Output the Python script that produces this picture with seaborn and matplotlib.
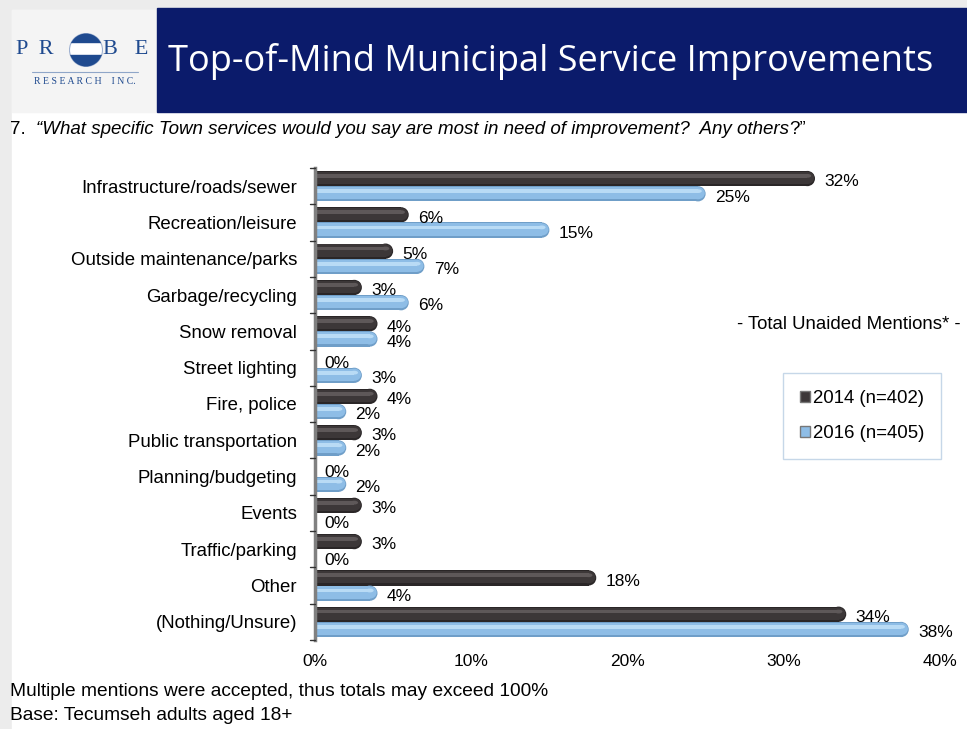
import numpy as np
import pandas as pd
import matplotlib
matplotlib.use("Agg")
import matplotlib.pyplot as plt
from matplotlib.patches import Rectangle, Circle, Ellipse
import seaborn as sns

# ---- data ----
categories = ["Infrastructure/roads/sewer", "Recreation/leisure", "Outside maintenance/parks",
              "Garbage/recycling", "Snow removal", "Street lighting", "Fire, police",
              "Public transportation", "Planning/budgeting", "Events", "Traffic/parking",
              "Other", "(Nothing/Unsure)"]
vals_2014 = [32, 6, 5, 3, 4, 0, 4, 3, 0, 3, 3, 18, 34]
vals_2016 = [25, 15, 7, 6, 4, 3, 2, 2, 2, 0, 0, 4, 38]
series = ["2014 (n=402)", "2016 (n=405)"]
xticks = [0, 10, 20, 30, 40]

df = pd.DataFrame({
    "category": categories * 2,
    "value": vals_2014 + vals_2016,
    "year": [series[0]] * len(categories) + [series[1]] * len(categories),
})

dark = "#3c3738"
blue = "#8ebde6"
shade = {dark: ("#5e5859", "#2a2627"), blue: ("#b9dbf5", "#6f9ec8")}
navy = "#0b1b6b"
logo_blue = "#1f4a8f"

sns.set_style("white")
plt.rcParams["font.family"] = ["Liberation Sans", "DejaVu Sans"]
plt.rcParams["text.color"] = "black"
plt.rcParams["xtick.color"] = "black"
plt.rcParams["ytick.color"] = "black"

fig = plt.figure(figsize=(9.67, 7.29), dpi=100)
W, H = 967, 729


def fx(px):
    return px / W


def fy(py):
    return 1 - py / H


# ---- header ----
fig.patches.append(Rectangle((0, 0), 1, 1, transform=fig.transFigure, color="#ececec", zorder=-3))
fig.patches.append(Rectangle((fx(12), 0), 1, fy(10), transform=fig.transFigure,
                             color="white", zorder=-2))
fig.patches.append(Rectangle((fx(12), fy(112)), fx(145), 102 / H, transform=fig.transFigure,
                             color="#f4f4f4", zorder=-2))
fig.patches.append(Rectangle((fx(157), fy(112)), 1, 104 / H, transform=fig.transFigure,
                             color=navy, zorder=-1))
fig.text(fx(168), fy(62), "Top-of-Mind Municipal Service Improvements",
         color="white", fontsize=26, family="Open Sans", va="center", ha="left")

# logo
fig.text(fx(16), fy(50), "P  R", family="Liberation Serif", fontsize=16,
         color=logo_blue, va="center")
fig.text(fx(103), fy(50), "B   E", family="Liberation Serif", fontsize=16,
         color=logo_blue, va="center")
lax = fig.add_axes([fx(69), fy(67), 34 / W, 34 / H])
lax.set_xlim(-1, 1)
lax.set_ylim(-1, 1)
lax.axis("off")
ring = Circle((0, 0), 0.97, facecolor="white", edgecolor="#9fb1d0", lw=0.8)
lax.add_patch(ring)
top = Rectangle((-1, 0.45), 2, 1, color=logo_blue)
bot = Rectangle((-1, -1), 2, 0.7, color=logo_blue)
for r in (top, bot):
    lax.add_patch(r)
    r.set_clip_path(ring)
fig.lines.append(plt.Line2D([fx(32), fx(138)], [fy(72), fy(72)],
                            transform=fig.transFigure, color="#8fa6c8", lw=0.8))
fig.text(fx(85), fy(82), "R E S E A R C H    I N C.", family="Liberation Serif",
         fontsize=7, color=logo_blue, ha="center", va="center")

# question
q1 = fig.text(fx(10), fy(130), "7.  ", fontsize=13.5, va="center")
q2 = plt.annotate("\u201cWhat specific Town services would you say are most in need of improvement?  Any others",
                  xy=(1, 0), xycoords=q1, va="bottom", fontsize=13.5, style="italic",
                  annotation_clip=False)
plt.annotate("?\u201d", xy=(1, 0), xycoords=q2, va="bottom", fontsize=13.5, annotation_clip=False)

# ---- chart ----
ax = fig.add_axes([fx(315), fy(640), 625 / W, 472 / H])
sns.barplot(data=df, y="category", x="value", hue="year", hue_order=series,
            palette=[dark, blue], saturation=1, orient="h", ax=ax, width=0.84, legend=True)
ax.set_xlim(0, 40)
ax.set_ylim(len(categories) - 0.5, -0.5)

# capsule-shaped bars: flat body + elliptical cap sized to look round on screen
px_x = 625 / 40          # pixels per percent
px_y = 472 / len(categories)  # pixels per category
bars = list(ax.patches)
for p in bars:
    x, y = p.get_x(), p.get_y()
    w, h = p.get_width(), p.get_height()
    fc = matplotlib.colors.to_hex(p.get_facecolor())
    p.set_visible(False)
    if w <= 0:
        continue
    r = h * px_y / 2 / px_x      # cap radius in x units
    hi, lo = shade.get(fc, (fc, fc))
    # y axis is inverted: small offsets are at the top of the bar
    layers = [(0.0, 1.0, lo), (0.06, 0.8, fc), (0.2, 0.25, hi)]
    for y0, hh, col in layers:
        rr = r * (hh ** 0.5)
        ax.add_patch(Rectangle((x, y + y0 * h), w - r, hh * h, facecolor=col,
                               edgecolor="none", zorder=2))
        ax.add_patch(Ellipse((x + w - r, y + (y0 + hh / 2) * h), 2 * rr,
                             hh * h, facecolor=col, edgecolor="none", zorder=2))

# value labels
for j, vals in enumerate([vals_2014, vals_2016]):
    off = -0.21 if j == 0 else 0.21
    for i, v in enumerate(vals):
        ax.text(v + 0.6, i + off + 0.09, f"{v}%", va="center", ha="left", fontsize=12.5)

ax.set_xticks(xticks)
ax.set_xticklabels([f"{t}%" for t in xticks], fontsize=12.5)
ax.set_yticks(range(len(categories)))
ax.set_yticklabels(categories, fontsize=13.4)
ax.set_xlabel("")
ax.set_ylabel("")
ax.tick_params(axis="y", length=0, pad=13)
ax.tick_params(axis="x", length=0, pad=10)
# boundary ticks on the category axis
for b in np.arange(-0.5, len(categories), 1):
    ax.plot([-0.3, 0], [b, b], color="#333333", lw=1, clip_on=False, zorder=4)
for s in ["top", "right", "bottom"]:
    ax.spines[s].set_visible(False)
ax.spines["left"].set_color("#808080")
ax.spines["left"].set_linewidth(2.5)

ax.legend_.remove()
handles = [Rectangle((0, 0), 1, 1, facecolor=dark, edgecolor="#777777"),
           Rectangle((0, 0), 1, 1, facecolor=blue, edgecolor="#777777")]
leg = fig.legend(handles, series, loc="upper left",
                 bbox_to_anchor=(fx(783), fy(373)), fontsize=13.4,
                 frameon=True, fancybox=False, handlelength=0.55, handleheight=0.55,
                 handletextpad=0.15, labelspacing=1.0, borderpad=0.9, borderaxespad=0)
leg.get_frame().set_edgecolor("#b8cde3")
leg.get_frame().set_linewidth(1)

fig.text(fx(737), fy(325), "- Total Unaided Mentions* -", fontsize=13.4, va="center")

# footnotes
fig.text(fx(10), fy(692), "Multiple mentions were accepted, thus totals may exceed 100%",
         fontsize=13.8, va="center")
fig.text(fx(10), fy(716), "Base: Tecumseh adults aged 18+", fontsize=13.8, va="center")

fig.savefig("out.png", dpi=100)
